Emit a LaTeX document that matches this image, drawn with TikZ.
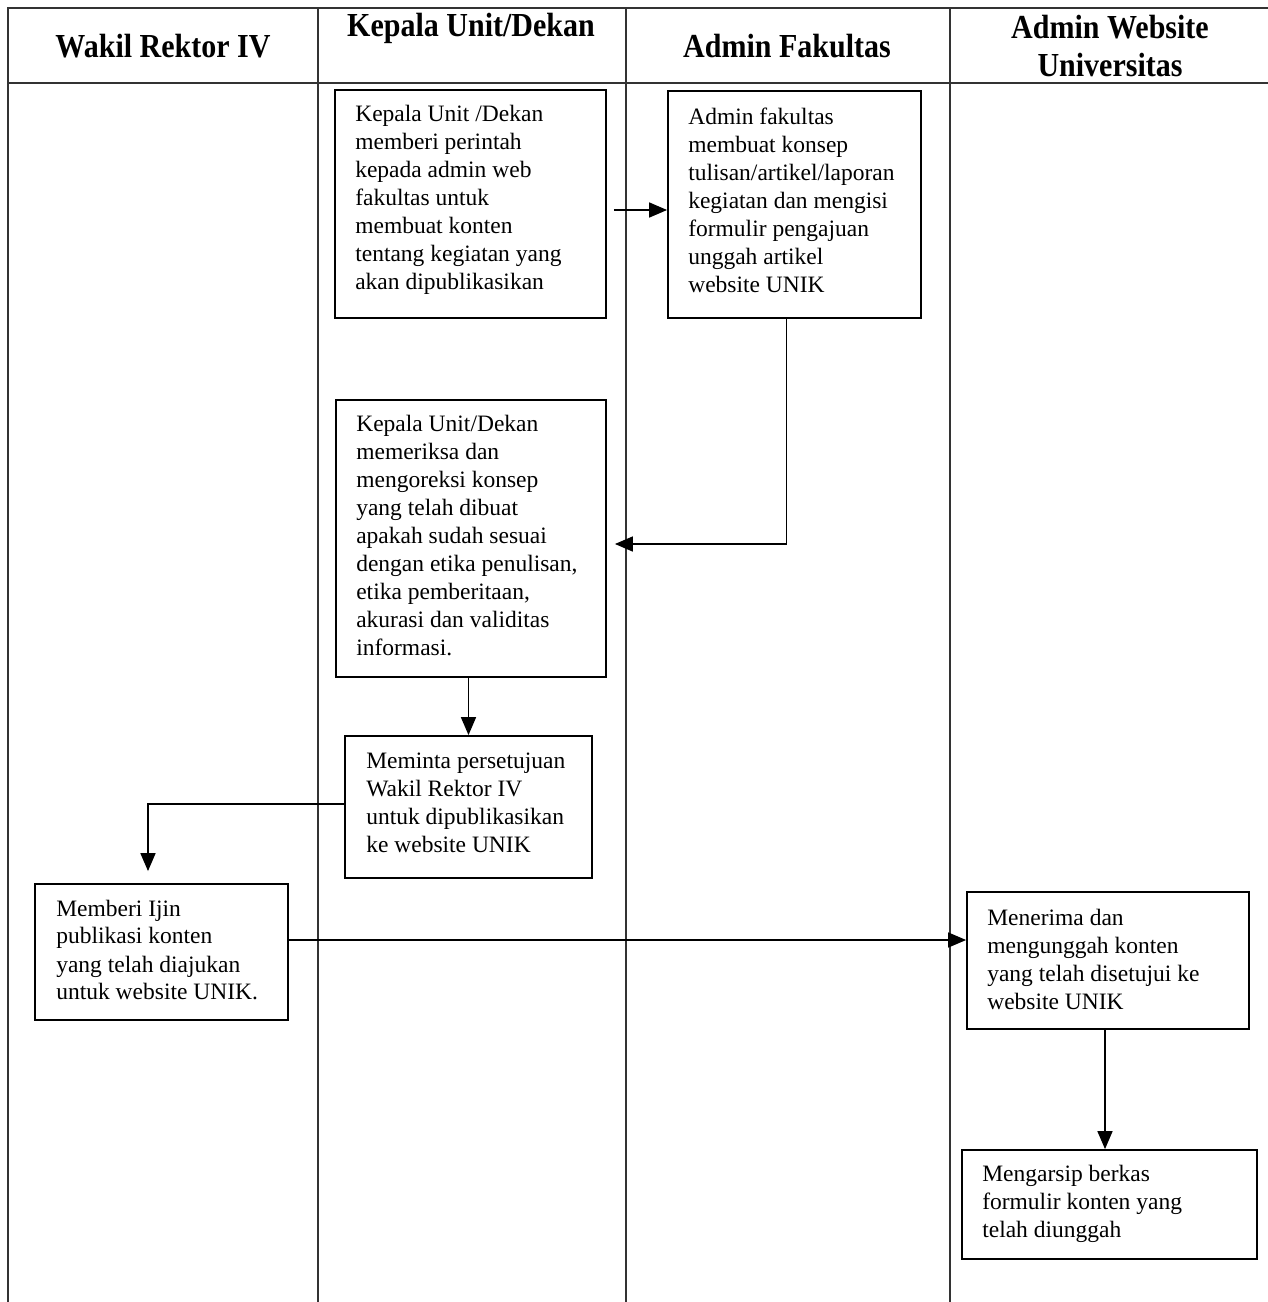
\documentclass[tikz,border=0pt]{standalone}
\usepackage{fontspec}
\setmainfont{Liberation Serif}
\usetikzlibrary{arrows.meta,calc}
\begin{document}
\begin{tikzpicture}[x=1pt,y=-1pt,
  lane/.style={line width=1.1pt,draw=black!80},
  box/.style={draw,line width=1.8pt,inner sep=0pt},
  txt/.style={anchor=west,align=left,inner sep=0pt,font=\fontsize{23.5}{28}\selectfont},
  head/.style={align=center,inner sep=0pt,font=\fontsize{30}{34}\selectfont\bfseries,yscale=1.12,transform shape},
  arr/.style={line width=1.6pt,-{Triangle[length=18pt,width=15pt]}}]
\useasboundingbox (0,0) rectangle (1268,1302);
% lanes
\draw[lane] (8,1302) -- (8,8) -- (1268,8);
\draw[lane] (8,83) -- (1268,83);
\foreach \x in {318,626,950} \draw[lane] (\x,8) -- (\x,1302);
% headers
\node[head] (h1) at (163,46) {Wakil Rektor IV};
\node[head] (h2) at (471,28) {Kepala Unit/Dekan};
\node[head] (h3) at (787,46) {Admin Fakultas};
\node[head] (h4) at (1110,46) {Admin Website\\Universitas};
% boxes
\node[box,minimum width=271pt,minimum height=228pt] (b1) at (470.5,204) {};
\node[txt] (t1) at ($(b1.west)+(21,-4)$) {Kepala Unit /Dekan\\memberi perintah\\kepada admin web\\fakultas untuk\\membuat konten\\tentang kegiatan yang\\akan dipublikasikan};
\node[box,minimum width=253pt,minimum height=227pt] (b2) at (794.5,204.5) {};
\node[txt] (t2) at ($(b2.west)+(21,-4)$) {Admin fakultas\\membuat konsep\\tulisan/artikel/laporan\\kegiatan dan mengisi\\formulir pengajuan\\unggah artikel\\website UNIK};
\node[box,minimum width=270pt,minimum height=277pt] (b3) at (471,538.5) {};
\node[txt] (t3) at ($(b3.west)+(21,-3)$) {Kepala Unit/Dekan\\memeriksa dan\\mengoreksi konsep\\yang telah dibuat\\apakah sudah sesuai\\dengan etika penulisan,\\etika pemberitaan,\\akurasi dan validitas\\informasi.};
\node[box,minimum width=247pt,minimum height=142pt] (b4) at (468.5,807) {};
\node[txt] (t4) at ($(b4.west)+(22,-4)$) {Meminta persetujuan\\Wakil Rektor IV\\untuk dipublikasikan\\ke website UNIK};
\node[box,minimum width=253pt,minimum height=136pt] (b5) at (161.5,952) {};
\node[txt] (t5) at ($(b5.west)+(22,-2)$) {Memberi Ijin\\publikasi konten\\yang telah diajukan\\untuk website UNIK.};
\node[box,minimum width=282pt,minimum height=137pt] (b6) at (1108,960.5) {};
\node[txt] (t6) at ($(b6.west)+(21,-1)$) {Menerima dan\\mengunggah konten\\yang telah disetujui ke\\website UNIK};
\node[box,minimum width=295pt,minimum height=109pt] (b7) at (1109.5,1204.5) {};
\node[txt] (t7) at ($(b7.west)+(21,-1)$) {Mengarsip berkas\\formulir konten yang\\telah diunggah};
% connectors
\draw[arr] ($(b1.east)+(7,6)$) coordinate (p1) -- (p1 -| b2.west);
\draw[arr] ($(b2.south)+(-8,0)$) |- ($(b3.east)+(8,5.5)$);
\draw[arr] (b3.south -| b4.north) -- (b4.north);
\draw[arr] ($(b4.west)+(0,-3)$) -| ($(b5.north)+(-13.5,-12)$);
\draw[arr] ($(b5.east)+(0,-12)$) coordinate (p5) -- (p5 -| b6.west);
\draw[arr] ($(b6.south)+(-3,0)$) -- ($(b7.north)+(-4.5,0)$);
\end{tikzpicture}
\end{document}
